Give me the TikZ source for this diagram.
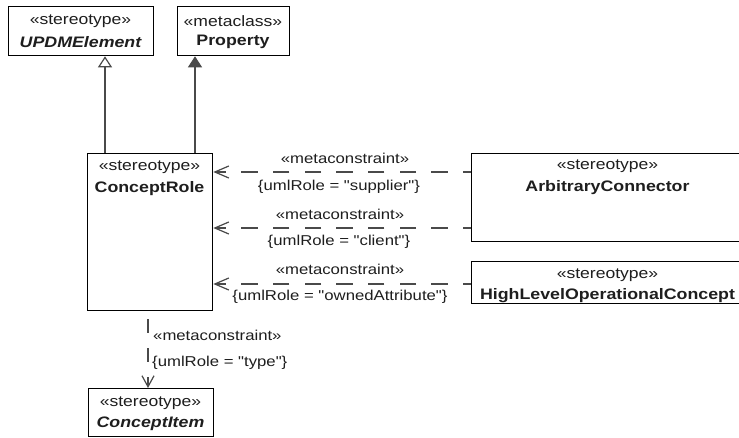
\documentclass[tikz,border=0pt]{standalone}
\usepackage{fontspec}
\setmainfont{Liberation Sans}[FakeStretch=1.17]
\newfontfamily\qfont{Liberation Sans}[FakeStretch=1.17]
\usetikzlibrary{arrows.meta}
\definecolor{linegray}{HTML}{4A4A4A}
\definecolor{txt}{HTML}{1E1E1E}
\begin{document}
\begin{tikzpicture}[x=1pt,y=-1pt,
  box/.style={draw=black,line width=1.3pt,fill=white,inner sep=0pt,anchor=north west},
  st/.style={font=\fontsize{15}{18}\selectfont,text=txt,inner sep=0pt},
  nm/.style={font=\fontsize{15.2}{18}\selectfont\bfseries,text=txt,inner sep=0pt},
  nmi/.style={font=\fontsize{15.2}{18}\selectfont\bfseries\itshape,text=txt,inner sep=0pt},
  lbl/.style={font=\qfont\fontsize{14.3}{17}\selectfont,text=txt,inner sep=0pt},
  conn/.style={draw=linegray,line width=1.2pt},
  gen/.style={conn,-{Triangle[open,fill=white,length=11pt,width=14pt]}},
  ext/.style={conn,-{Triangle[length=11pt,width=14pt]}},
  deph/.style={conn,dash pattern=on 16.5pt off 15.2pt,dash phase=8.5pt,-{Straight Barb[length=14pt,width=12pt]}},
  depv/.style={conn,dash pattern=on 14pt off 15pt,dash phase=21pt,-{Straight Barb[length=11pt,width=12pt]}}
]
\useasboundingbox (0,0) rectangle (739,438);
\clip (0,0) rectangle (739,438);
\fill[white] (0,0) rectangle (739,438);

% boxes
\node[box,minimum width=145pt,minimum height=49pt] (upd) at (8,6) {};
\node[box,minimum width=112pt,minimum height=49pt] (prop) at (177,6) {};
\node[box,minimum width=125pt,minimum height=157pt] (cr) at (87,153) {};
\node[box,minimum width=273pt,minimum height=88pt] (ac) at (471,153) {};
\node[box,minimum width=273pt,minimum height=42pt] (hl) at (471,261) {};
\node[box,minimum width=125pt,minimum height=48pt] (ci) at (88,388) {};

% texts in boxes
\node[st] (updS) at (80.5,21) {«stereotype»};
\node[nmi] (updN) at (80.5,42) {UPDMElement};
\node[st] (propS) at (233,21) {«metaclass»};
\node[nm] (propN) at (233,42) {Property};
\node[st] (crS) at (149.5,167) {«stereotype»};
\node[nm] (crN) at (149.5,189) {ConceptRole};
\node[st] (acS) at (607.5,166) {«stereotype»};
\node[nm] (acN) at (607.5,188) {ArbitraryConnector};
\node[st] (hlS) at (607.5,275) {«stereotype»};
\node[nm] (hlN) at (607.5,296) {HighLevelOperationalConcept};
\node[st] (ciS) at (150.5,403) {«stereotype»};
\node[nmi] (ciN) at (150.5,424) {ConceptItem};

% generalization / extension
\draw[gen] (105,0 |- cr.north) -- (105,0 |- upd.south);
\draw[ext] (195,0 |- cr.north) -- (195,0 |- prop.south);

% dependencies
\draw[deph] (ac.west |- 0,172) -- (cr.east |- 0,172);
\draw[deph] (ac.west |- 0,228) -- (cr.east |- 0,228);
\draw[deph] (hl.west |- 0,284) -- (cr.east |- 0,284);
\draw[depv] (148,0 |- cr.south) -- (148,0 |- ci.north);

% labels
\node[lbl] (l1a) at (345,158) {«metaconstraint»};
\node[lbl] (l1b) at (339,187) {\{umlRole = "supplier"\}};
\node[lbl] (l2a) at (340,214) {«metaconstraint»};
\node[lbl] (l2b) at (339,242) {\{umlRole = "client"\}};
\node[lbl] (l3a) at (340,269) {«metaconstraint»};
\node[lbl] (l3b) at (340,297) {\{umlRole = "ownedAttribute"\}};
\node[lbl,anchor=west] (l4a) at (153,335) {«metaconstraint»};
\node[lbl,anchor=west] (l4b) at (152,363) {\{umlRole = "type"\}};
\end{tikzpicture}
\end{document}
